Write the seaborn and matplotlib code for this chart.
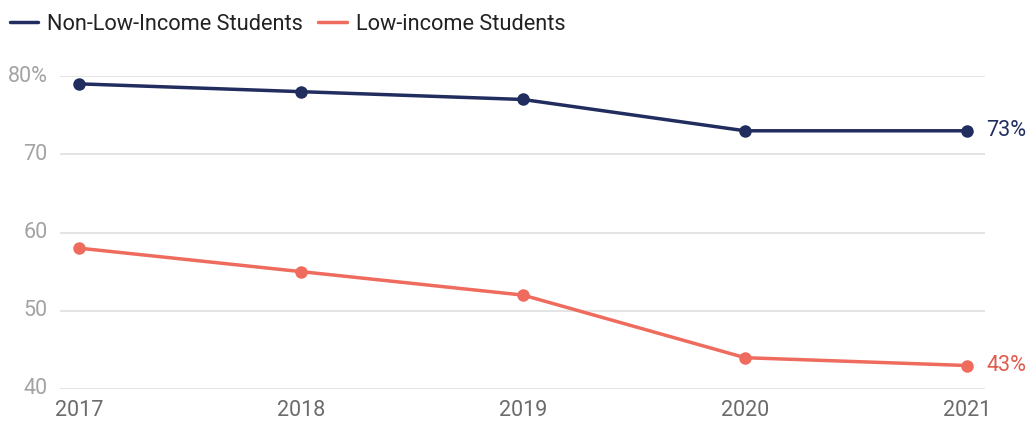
import matplotlib
matplotlib.use("Agg")
import matplotlib.pyplot as plt
import seaborn as sns
import pandas as pd

years = [2017, 2018, 2019, 2020, 2021]
non_low_income = [79, 78, 77, 73, 73]
low_income = [58, 55, 52, 44, 43]
series_names = ["Non-Low-Income Students", "Low-income Students"]
y_ticks = [40, 50, 60, 70, 80]
y_tick_labels = ["40", "50", "60", "70", "80%"]

navy = "#212d5e"
coral = "#ee6b5e"

sns.set_theme(style="white")
plt.rcParams["font.family"] = ["Roboto", "DejaVu Sans"]

df = pd.DataFrame({
    "year": years * 2,
    "value": non_low_income + low_income,
    "group": [series_names[0]] * len(years) + [series_names[1]] * len(years),
})

fig = plt.figure(figsize=(10.26, 4.23), dpi=100)
ax = fig.add_axes([0.0585, 0.0804, 0.9015, 0.7399])

sns.lineplot(data=df, x="year", y="value", hue="group",
             palette=[navy, coral], marker="o", markersize=9,
             markeredgewidth=0, linewidth=2.5, ax=ax, legend=False,
             solid_joinstyle="round", solid_capstyle="round")

ax.set_xlim(2016.914, 2021.081)
ax.set_ylim(40, 80)
ax.set_yticks(y_ticks)
ax.set_yticklabels(y_tick_labels)
ax.set_xticks(years)
ax.set_xticklabels([str(y) for y in years])
ax.set_xlabel("")
ax.set_ylabel("")
ax.grid(axis="y", color="#e2e2e2", linewidth=1.3)
ax.grid(axis="x", visible=False)
for s in ax.spines.values():
    s.set_visible(False)
ax.tick_params(axis="y", length=0, pad=9, labelsize=15.5, labelcolor="#a3a3a3")
ax.tick_params(axis="x", length=0, pad=8, labelsize=15.5, labelcolor="#6b6b6b")
for lab in ax.get_yticklabels():
    lab.set_verticalalignment("center")

ax.annotate(f"{non_low_income[-1]}%", (years[-1], non_low_income[-1]),
            xytext=(14, 0), textcoords="offset points", va="center",
            ha="left", fontsize=15.5, color=navy, annotation_clip=False)
ax.annotate(f"{low_income[-1]}%", (years[-1], low_income[-1]),
            xytext=(14, 0), textcoords="offset points", va="center",
            ha="left", fontsize=15.5, color="#e25a4e", annotation_clip=False)

handles = [plt.Line2D([], [], color=navy, linewidth=2.5),
           plt.Line2D([], [], color=coral, linewidth=2.5)]
fig.legend(handles, series_names, loc="upper left", bbox_to_anchor=(-0.0098, 1.014),
           ncol=2, frameon=False, fontsize=15.7, handlelength=1.3,
           handletextpad=0.42, columnspacing=0.7, labelcolor="#222222")

fig.savefig("out.png", dpi=100)
